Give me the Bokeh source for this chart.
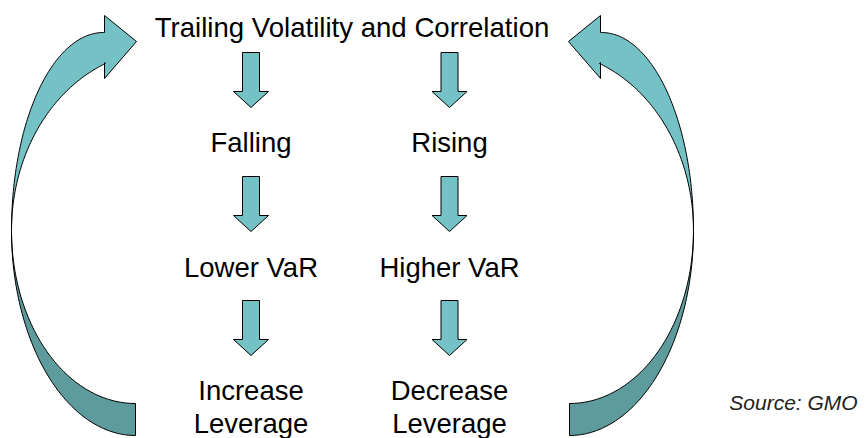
import numpy as np
from bokeh.plotting import figure
from bokeh.models import Range1d
from bokeh.core.properties import value
from bokeh.embed import file_html
from bokeh.resources import INLINE

# ---- content ----
title = "Trailing Volatility and Correlation"
left_col = ["Falling", "Lower VaR", "Increase", "Leverage"]
right_col = ["Rising", "Higher VaR", "Decrease", "Leverage"]
source_note = "Source:  GMO"

# ---- layout (reference pixel space, y downward) ----
col_x = [250.5, 449.0]
row_baseline = [150, 275, 398, 431]
arrow_top = [52, 176, 300]
title_x, title_y = 351.5, 35
mirror = 704.0          # left/right curved arrows are mirror images
TXT_DY = -8             # compensation for the renderer's baseline placement

LIGHT = "#74C1C6"
DARK = "#5D9B9C"
FONT = value("Liberation Sans")

p = figure(width=866, height=438, output_backend="svg", toolbar_location=None,
           x_axis_location=None, y_axis_location=None, min_border=0,
           x_range=Range1d(0, 866), y_range=Range1d(438, 0))
p.grid.visible = False
p.outline_line_color = None
p.background_fill_color = "white"
p.border_fill_color = "white"


def ell(a, b, sign, t0, t1, n=80):
    t = np.linspace(t0, t1, n)
    return 11 + a * (1 - np.cos(t)), 230 + sign * b * np.sin(t)


# upper (light) part of the left curved arrow, with head
ox, oy = ell(92, 198, -1, 0, np.pi / 2)
te = np.arcsin(167 / 180)
ix, iy = ell(150, 180, -1, te, 0)
up_x = list(ox) + [104, 104, 136, 104, 104] + list(ix)
up_y = list(oy) + [32, 15, 41, 78, 62] + list(iy)

# lower (dark) part (tail)
lx, ly = ell(124, 205, 1, 0, np.pi / 2)
kx, ky = ell(124, 173, 1, np.pi / 2, 0)
lo_x = list(lx) + [135] + list(kx)
lo_y = list(ly) + [403] + list(ky)

lo_xs = [lo_x, [mirror - v for v in lo_x]]
lo_ys = [lo_y, lo_y]
up_xs = [up_x, [mirror - v for v in up_x]]
up_ys = [up_y, up_y]

p.patches(lo_xs, lo_ys, fill_color=DARK, line_color="black", line_width=1)
p.patches(up_xs, up_ys, fill_color=LIGHT, line_color="black", line_width=1)

# down arrows
sw, hw, sl, hl = 8.5, 17.5, 39, 16
axs, ays = [], []
for cx in col_x:
    for t in arrow_top:
        axs.append([cx - sw, cx + sw, cx + sw, cx + hw, cx, cx - hw, cx - sw])
        ays.append([t, t, t + sl, t + sl, t + sl + hl, t + sl, t + sl])
p.patches(axs, ays, fill_color=LIGHT, line_color="black", line_width=1)

# texts
p.text(x=[title_x], y=[title_y + TXT_DY], text=[title], text_font=FONT,
       text_font_size="27.6px", text_align="center", text_baseline="alphabetic",
       text_color="black")
tx, ty, tt = [], [], []
for cx, labels in zip(col_x, [left_col, right_col]):
    for yb, lab in zip(row_baseline, labels):
        tx.append(cx); ty.append(yb + TXT_DY); tt.append(lab)
p.text(x=tx, y=ty, text=tt, text_font=FONT, text_font_size="27.5px",
       text_align="center", text_baseline="alphabetic", text_color="black")

p.text(x=[863], y=[408 + TXT_DY * 0.78], text=[source_note], text_font=FONT,
       text_font_size="21px", text_font_style="italic", text_align="right",
       text_baseline="alphabetic", text_color="#222222")

open("out.html", "w").write(file_html(p, INLINE))
